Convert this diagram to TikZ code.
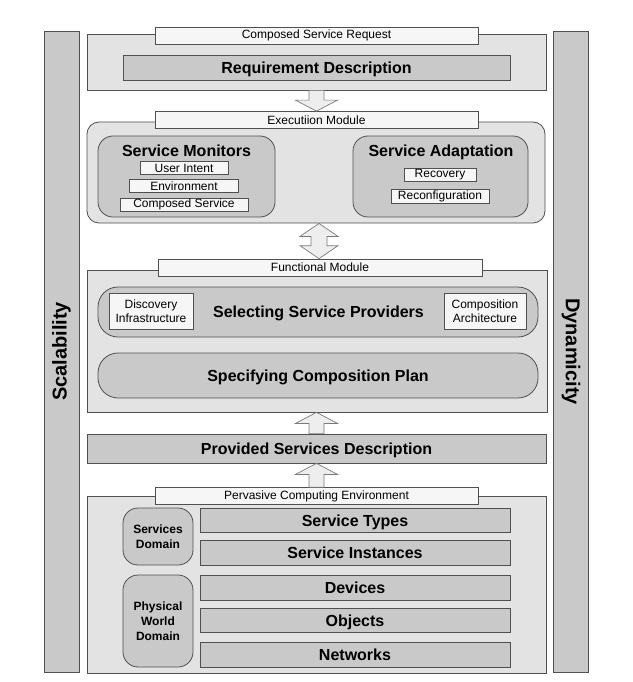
\documentclass[tikz,border=0pt]{standalone}
\usepackage{fontspec}
\setmainfont{Liberation Sans}
\usetikzlibrary{calc,positioning}

\definecolor{panelgray}{HTML}{E3E3E3}
\definecolor{boxgray}{HTML}{C9C9C9}
\definecolor{tabwhite}{HTML}{F6F6F6}
\definecolor{edgegray}{HTML}{505050}
\definecolor{arrowfill}{HTML}{EEEEEE}
\definecolor{arrowedge}{HTML}{7A7A7A}

\tikzset{
  wh/.style 2 args={minimum width=#1pt, minimum height=#2pt},
  sidebar/.style={draw=edgegray, fill=boxgray, line width=0.8pt, inner sep=0pt, minimum width=641pt, minimum height=35pt, font=\fontsize{20}{24}\selectfont\bfseries},
  panel/.style={draw=edgegray, fill=panelgray, line width=0.8pt, inner sep=0pt},
  tab/.style={draw=edgegray, fill=tabwhite, line width=0.7pt, inner sep=0pt, minimum width=323pt, minimum height=17pt, font=\fontsize{12}{14}\selectfont},
  layer/.style={draw=edgegray, fill=boxgray, line width=0.8pt, inner sep=0pt, text depth=0pt, font=\fontsize{16}{19}\selectfont\bfseries},
  module/.style={draw=edgegray, fill=boxgray, line width=0.8pt, inner sep=0pt, rounded corners=15pt},
  heading/.style={inner sep=0pt, text depth=0pt, font=\fontsize{16}{19}\selectfont\bfseries},
  item/.style={draw=edgegray, fill=tabwhite, line width=0.7pt, inner sep=0pt, minimum height=13pt, align=center, font=\fontsize{12}{14.5}\selectfont},
  domainbox/.style={module, align=center, font=\fontsize{12}{15}\selectfont\bfseries},
  fatarrow/.style={draw=arrowedge, fill=arrowfill, line width=0.7pt,
    to path={let \p1=(\tikztostart), \p2=(\tikztotarget), \n1={(\y2-\y1)/abs(\y2-\y1)} in
      (\x1-7.5pt,\y1) -- (\x1-7.5pt,\y2-\n1*11pt) -- (\x1-21pt,\y2-\n1*11pt) -- (\x1,\y2)
      -- (\x1+21pt,\y2-\n1*11pt) -- (\x1+7.5pt,\y2-\n1*11pt) -- (\x1+7.5pt,\y1) -- cycle}},
  fatdouble/.style={draw=arrowedge, fill=arrowfill, line width=0.7pt,
    to path={let \p1=(\tikztostart), \p2=(\tikztotarget), \n1={(\y2-\y1)/abs(\y2-\y1)} in
      (\x1,\y1) -- (\x1+19pt,\y1+\n1*13pt) -- (\x1+8pt,\y1+\n1*13pt) -- (\x1+8pt,\y2-\n1*13pt)
      -- (\x1+19pt,\y2-\n1*13pt) -- (\x1,\y2) -- (\x1-19pt,\y2-\n1*13pt) -- (\x1-8pt,\y2-\n1*13pt)
      -- (\x1-8pt,\y1+\n1*13pt) -- (\x1-19pt,\y1+\n1*13pt) -- cycle}}
}

\begin{document}
\begin{tikzpicture}[x=1pt, y=-1pt]
\fill[white] (0,0) rectangle (632,682);
\useasboundingbox (0,0) rectangle (632,682);

% side bars
\node[sidebar, rotate=90] (scal) at (61.5,351.5) {Scalability};
\node[sidebar, rotate=-90] (dyn) at (571,351.5) {Dynamicity};

% composed service request
\node[panel, wh={459}{56}] (req) at (316.5,62) {};
\node[layer, wh={387}{25}] (reqdesc) at (316.5,67.5) {Requirement Description};
\node[tab] (reqtab) at (316.5,35.5) {Composed Service Request};

% execution module
\node[panel, rounded corners=12pt, wh={458}{101}] (exec) at (316,172.5) {};
\node[tab] (exectab) at (316.5,120) {Executiion Module};
\node[module, wh={177}{81}] (mon) at (186.5,176.5) {};
\node[heading] (montitle) at (186.5,151) {Service Monitors};
\node[item, wh={88}{13}] (intent) at (184,168) {User Intent};
\node[item, minimum width=109pt, below=4.5pt of intent] (env) {Environment};
\node[item, minimum width=128pt, below=4.5pt of env] (compsvc) {Composed Service};
\node[module, wh={175}{81}] (adapt) at (440.5,176.5) {};
\node[heading] (adapttitle) at (441,151) {Service Adaptation};
\node[item, wh={72}{13}] (recov) at (440,174.5) {Recovery};
\node[item, minimum width=98pt, minimum height=14pt, below=7.5pt of recov] (reconf) {Reconfiguration};

% functional module
\node[panel, wh={460}{142}] (func) at (317,341) {};
\node[tab, minimum width=324pt] (functab) at (320,267.5) {Functional Module};
\node[module, rounded corners=20pt, wh={440}{50}] (select) at (318,312) {};
\node[heading] (selecttitle) at (318.5,312) {Selecting Service Providers};
\node[item, wh={84}{36}] (disc) at (151,311) {Discovery\\Infrastructure};
\node[item, wh={82}{36}] (compo) at (485,311) {Composition\\Architecture};
\node[module, rounded corners=20pt, wh={440}{45}, text depth=0pt, font=\fontsize{16}{19}\selectfont\bfseries] (plan) at (318,375.5) {Specifying Composition Plan};

% provided services
\node[layer, wh={459}{29}] (prov) at (316.5,448.5) {Provided Services Description};

% pervasive computing environment
\node[panel, wh={459}{177}] (perv) at (316.5,584.5) {};
\node[tab] (pervtab) at (316.5,496) {Pervasive Computing Environment};
\node[domainbox, wh={70}{57}] (svcdom) at (158,536.5) {Services\\Domain};
\node[domainbox, wh={70}{92}] (physdom) at (158,621) {Physical\\World\\Domain};
\foreach \name/\ypos/\label in {types/520.5/Service Types, inst/553/Service Instances,
    dev/588/Devices, obj/620.5/Objects, net/655/Networks}
  \node[layer, wh={310}{24.5}] (\name) at (355,\ypos) {\label};

% block arrows
\draw[fatarrow] (req.south) to (exectab.north);
\draw[fatdouble] ([xshift=3pt]exec.south) to (functab.north);
\draw[fatarrow] (prov.north) to (func.south);
\draw[fatarrow] (pervtab.north) to (prov.south);
\end{tikzpicture}
\end{document}
